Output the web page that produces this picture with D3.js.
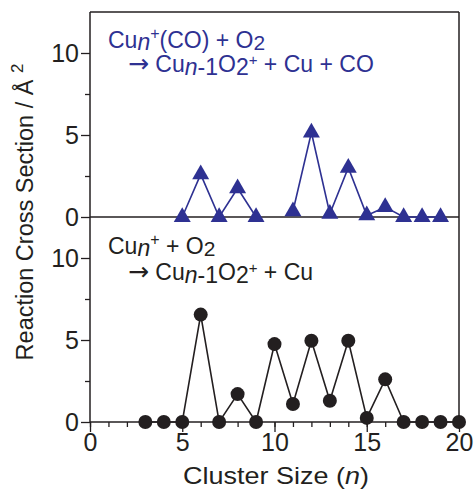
<!DOCTYPE html>
<html>
<head>
<meta charset="utf-8">
<script src="https://cdn.jsdelivr.net/npm/d3@7"></script>
<style>
  body { margin: 0; background: #fff; }
  text { font-family: "Liberation Sans", Arial, sans-serif; fill: #231f20; }
</style>
</head>
<body>
<div id="chart"></div>
<script>
// Cu_n+(CO) + O2 (triangles), null = not measured
var sizesTop = [5, 6, 7, 8, 9, 10, 11, 12, 13, 14, 15, 16, 17, 18, 19];
var crossTop = [0, 2.6, 0, 1.75, 0, null, 0.35, 5.15, 0.2, 3.0, 0.1, 0.6, 0, 0, 0];

// Cu_n+ + O2 (circles)
var sizesBottom = [3, 4, 5, 6, 7, 8, 9, 10, 11, 12, 13, 14, 15, 16, 17, 18, 19, 20];
var crossBottom = [0, 0, 0, 6.55, 0, 1.7, 0, 4.75, 1.1, 4.95, 1.3, 4.95, 0.25, 2.6, 0, 0, 0, 0];

var xMajorTicks = [0, 5, 10, 15, 20];
var xMinorTicks = d3.range(0, 21, 1);
var yMajorTicks = [0, 5, 10];
var yMinorTicks = [2.5, 7.5];

var blue = "#2e3192";
var ink = "#231f20";

var svg = d3.select("#chart").append("svg")
    .attr("width", 475)
    .attr("height", 490);

var x = d3.scaleLinear().domain([0, 20]).range([90, 459]);
var yTop = d3.scaleLinear().domain([0, 12.5]).range([217, 12]);
var yBottom = d3.scaleLinear().domain([0, 12.5]).range([422, 217]);

function styleAxis(g) {
    g.select(".domain").remove();
    g.selectAll("line").attr("stroke", ink).attr("stroke-width", 1.3);
    g.selectAll("text")
        .style("font-size", "25px")
        .style("font-family", "'Liberation Sans', Arial, sans-serif")
        .attr("fill", ink);
}

// y axes for both panels
[yTop, yBottom].forEach(function (y) {
    svg.append("g")
        .attr("transform", "translate(90,0)")
        .call(d3.axisLeft(y).tickValues(yMajorTicks).tickSize(9).tickPadding(2))
        .call(styleAxis);
    svg.append("g")
        .attr("transform", "translate(90,0)")
        .call(d3.axisLeft(y).tickValues(yMinorTicks).tickSize(5).tickFormat(""))
        .call(styleAxis);
});

// x axis
svg.append("g")
    .attr("transform", "translate(0," + yBottom(0) + ")")
    .call(d3.axisBottom(x).tickValues(xMinorTicks).tickSize(5).tickFormat(""))
    .call(styleAxis);
svg.append("g")
    .attr("transform", "translate(0," + yBottom(0) + ")")
    .call(d3.axisBottom(x).tickValues(xMajorTicks).tickSize(10).tickPadding(1))
    .call(styleAxis);

// frame lines
var frame = svg.append("g")
    .attr("stroke", ink)
    .attr("stroke-width", 1.5)
    .attr("fill", "none");
frame.append("line").attr("x1", x(0)).attr("x2", x(0)).attr("y1", yTop(12.5)).attr("y2", yBottom(0));
frame.append("line").attr("x1", x(20)).attr("x2", x(20)).attr("y1", yTop(12.5)).attr("y2", yBottom(0));
frame.append("line").attr("x1", x(0)).attr("x2", x(20)).attr("y1", yTop(12.5)).attr("y2", yTop(12.5));
frame.append("line").attr("x1", x(0)).attr("x2", x(20)).attr("y1", yTop(0)).attr("y2", yTop(0));
frame.append("line").attr("x1", x(0)).attr("x2", x(20)).attr("y1", yBottom(0)).attr("y2", yBottom(0));

// top series
var topData = sizesTop.map(function (n, i) { return { n: n, v: crossTop[i] }; });
var lineTop = d3.line()
    .defined(function (d) { return d.v != null; })
    .x(function (d) { return x(d.n); })
    .y(function (d) { return yTop(d.v); });

svg.append("path")
    .datum(topData)
    .attr("d", lineTop)
    .attr("fill", "none")
    .attr("stroke", blue)
    .attr("stroke-width", 1.6);

svg.selectAll(".tri")
    .data(topData.filter(function (d) { return d.v != null; }))
    .enter().append("path")
    .attr("class", "tri")
    .attr("d", d3.symbol(d3.symbolTriangle).size(125))
    .attr("transform", function (d) { return "translate(" + x(d.n) + "," + yTop(d.v) + ")"; })
    .attr("fill", blue);

// bottom series
var bottomData = sizesBottom.map(function (n, i) { return { n: n, v: crossBottom[i] }; });
var lineBottom = d3.line()
    .x(function (d) { return x(d.n); })
    .y(function (d) { return yBottom(d.v); });

svg.append("path")
    .datum(bottomData)
    .attr("d", lineBottom)
    .attr("fill", "none")
    .attr("stroke", ink)
    .attr("stroke-width", 1.6);

svg.selectAll(".dot")
    .data(bottomData)
    .enter().append("circle")
    .attr("class", "dot")
    .attr("cx", function (d) { return x(d.n); })
    .attr("cy", function (d) { return yBottom(d.v); })
    .attr("r", 7)
    .attr("fill", ink);

// reaction labels
function addSpans(t, parts) {
    parts.forEach(function (p) {
        var s = t.append("tspan").text(p.t);
        if (p.dy) s.attr("dy", p.dy);
        if (p.size) s.style("font-size", p.size + "px");
        if (p.it) s.style("font-style", "italic");
        if (p.font) s.style("font-family", p.font);
    });
}

var arrow = { t: "\u2192", font: "'DejaVu Sans'", size: 25 };

var t1 = svg.append("text").attr("x", 108).attr("y", 48).style("font-size", "23px").style("fill", blue);
addSpans(t1, [
    { t: "Cu" }, { t: "n", it: true, dy: 2 }, { t: "+", size: 16, dy: -11 },
    { t: "(CO) + O", dy: 9 }, { t: "2", size: 21, dy: 2 }
]);
var t2 = svg.append("text").attr("x", 128).attr("y", 72).style("font-size", "23px").style("fill", blue);
addSpans(t2, [
    arrow, { t: " Cu", size: 23 }, { t: "n", it: true, dy: 3 }, { t: "-1" }, { t: "O", dy: -3 },
    { t: "2", dy: 3 }, { t: "+", size: 15, dy: -10 }, { t: " + Cu + CO", dy: 7 }
]);

var t3 = svg.append("text").attr("x", 108).attr("y", 254).style("font-size", "23px");
addSpans(t3, [
    { t: "Cu" }, { t: "n", it: true, dy: 2 }, { t: "+", size: 16, dy: -11 },
    { t: " + O", dy: 9 }, { t: "2", size: 21, dy: 2 }
]);
var t4 = svg.append("text").attr("x", 128).attr("y", 280).style("font-size", "23px");
addSpans(t4, [
    arrow, { t: " Cu", size: 23 }, { t: "n", it: true, dy: 3 }, { t: "-1" }, { t: "O", dy: -3 },
    { t: "2", dy: 3 }, { t: "+", size: 15, dy: -10 }, { t: " + Cu", dy: 7 }
]);

// axis titles
var xt = svg.append("text")
    .attr("x", 276)
    .attr("y", 484)
    .attr("text-anchor", "middle")
    .attr("textLength", 186)
    .attr("lengthAdjust", "spacingAndGlyphs")
    .style("font-size", "24px");
addSpans(xt, [{ t: "Cluster Size (" }, { t: "n", it: true }, { t: ")" }]);

var yt = svg.append("text")
    .attr("transform", "translate(33,212) rotate(-90)")
    .attr("text-anchor", "middle")
    .style("font-size", "23.5px");
addSpans(yt, [{ t: "Reaction Cross Section / \u00c5 " }, { t: "2", size: 17, dy: -10 }]);
</script>
</body>
</html>
